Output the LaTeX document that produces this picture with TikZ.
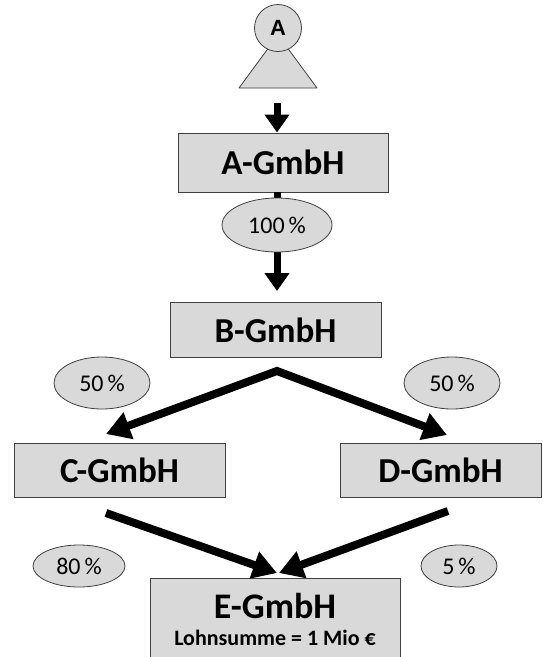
\documentclass[tikz,border=0pt]{standalone}
\usepackage{fontspec}
\setmainfont{Carlito}
\newfontfamily\arialfont{Liberation Sans}
\usetikzlibrary{arrows.meta,shapes.geometric}
\definecolor{boxgray}{HTML}{D9D9D9}
\definecolor{edgegray}{HTML}{404040}
\tikzset{
  firm/.style={draw=edgegray, line width=1pt, fill=boxgray, rectangle, inner sep=0pt,
    font=\fontsize{35}{40}\selectfont\bfseries},
  share/.style={draw=edgegray, line width=0.8pt, fill=boxgray, ellipse, inner sep=0pt,
    font=\fontsize{24}{26}\selectfont},
  varrow/.style={line width=7pt, -{Triangle[width=24pt,length=18pt]}},
  darrow/.style={line width=8pt, -{Triangle[width=27pt,length=24pt]}},
}
\begin{document}
\begin{tikzpicture}[x=1pt,y=-1pt]
\clip (0,0) rectangle (543,657);
\fill[white] (0,0) rectangle (543,657);
% owner icon
\filldraw[fill=boxgray, draw=edgegray, line width=0.8pt, line join=round]
  (278,35) -- (317,88) -- (239,88) -- cycle;
\node[circle, draw=edgegray, line width=0.8pt, fill=boxgray, minimum size=47pt, inner sep=0pt,
  font=\arialfont\fontsize{22}{24}\selectfont\bfseries] (owner) at (278,28) {A};
% boxes
\node[firm, minimum width=210pt, minimum height=59pt] (A) at (283,162.5) {A-GmbH};
\node[firm, minimum width=211pt, minimum height=55pt] (B) at (275.5,330) {B-GmbH};
\node[firm, minimum width=211pt, minimum height=54pt] (C) at (119.5,470) {C-GmbH};
\node[firm, minimum width=201pt, minimum height=54pt] (D) at (440.5,470) {D-GmbH};
\node[firm, minimum width=250pt, minimum height=100pt, anchor=north] (E) at (275,578) {};
\node[font=\fontsize{36}{40}\selectfont\bfseries, inner sep=0pt] (Etitle) at (275,606) {E-GmbH};
\node[font=\fontsize{22}{24}\selectfont\bfseries, inner sep=0pt] (Esub) at (275,638) {Lohnsumme = 1 Mio €};
% arrow coordinates
\coordinate (aTop) at (277,103);
\coordinate (aBot) at (277,192);
\coordinate (bTip) at (277,291);
\coordinate (fork) at (277,371);
\coordinate (cTip) at (106,434);
\coordinate (dTip) at (447,435);
\coordinate (cOut) at (106,513);
\coordinate (dOut) at (448,511);
\coordinate (eTipL) at (277,573);
\coordinate (eTipR) at (279,573);
% arrows
\draw[varrow] (aTop) -- (aTop |- A.north);
\draw[varrow] (aBot) -- (bTip);
\draw[line width=8pt, line join=miter, {Triangle[width=27pt,length=24pt]}-{Triangle[width=27pt,length=24pt]}]
  (cTip) -- (fork) -- (dTip);
\draw[darrow] (cOut) -- (eTipL);
\draw[darrow] (dOut) -- (eTipR);
% shares
\node[share, minimum width=110pt, minimum height=54pt] (s100) at (277,225) {100\,\%};
\node[share, minimum width=96pt, minimum height=52pt] (s50l) at (102,383) {50\,\%};
\node[share, minimum width=96pt, minimum height=52pt] (s50r) at (452,383) {50\,\%};
\node[share, minimum width=92pt, minimum height=42pt] (s80) at (79,566) {80\,\%};
\node[share, minimum width=76pt, minimum height=42pt] (s5) at (459,566) {5\,\%};
\end{tikzpicture}
\end{document}
